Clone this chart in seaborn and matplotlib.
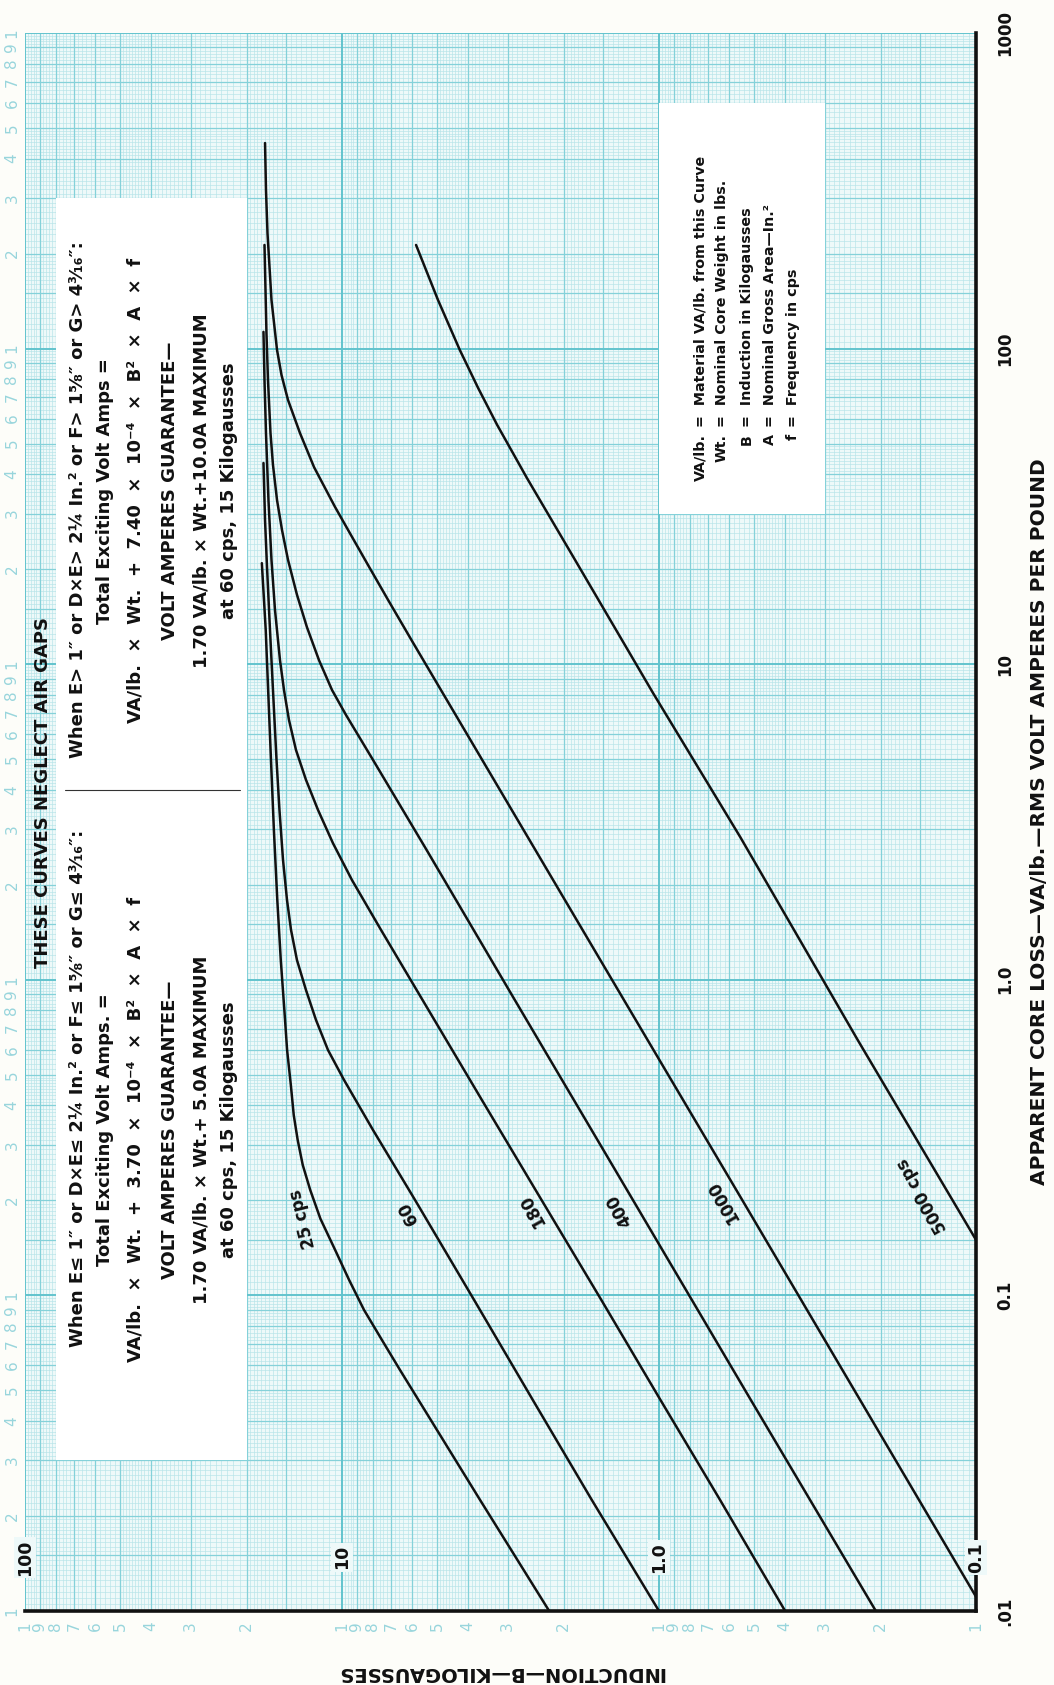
import numpy as np
import pandas as pd
import matplotlib
matplotlib.use("Agg")
import matplotlib.pyplot as plt
import seaborn as sns
from matplotlib.patches import Rectangle
from matplotlib.lines import Line2D
from matplotlib.ticker import NullLocator

# ---------------------------------------------------------------------------
# Apparent core loss (VA/lb) against induction (kilogausses), one curve per
# excitation frequency.  Values are (B, VA/lb) pairs along each curve.
# ---------------------------------------------------------------------------
freq_labels = ["25 cps", "60", "180", "400", "1000", "5000 cps"]

b_25 = [2.22, 3.67, 5.02, 6.56, 7.48, 8.52, 9.50, 10.5, 11.7, 12.6, 13.3, 13.8, 14.2, 14.5,
        14.9, 15.2, 15.6, 16.0, 16.4, 16.75, 17.1, 17.4, 17.7, 17.9]
va_25 = [0.010, 0.0225, 0.0375, 0.0580, 0.0722, 0.0899, 0.112, 0.139, 0.175, 0.216, 0.259,
         0.311, 0.373, 0.464, 0.599, 0.802, 1.155, 1.79, 2.98, 4.97, 8.28, 12.8, 17.2, 20.9]

b_60 = [1.0, 1.63, 2.50, 3.83, 5.89, 7.98, 9.86, 11.07, 12.08, 12.99, 13.87, 14.48, 14.91,
        15.35, 15.75, 16.09, 16.39, 16.69, 16.93, 17.24, 17.49, 17.69]
va_60 = [0.010, 0.0225, 0.0466, 0.0967, 0.201, 0.334, 0.482, 0.599, 0.746, 0.928, 1.155,
         1.438, 1.79, 2.40, 3.45, 4.97, 7.16, 10.3, 13.8, 20.3, 28.6, 43.4]

b_180 = [0.40, 0.642, 0.989, 1.52, 2.35, 3.62, 5.57, 7.53, 9.30, 10.68, 11.90, 12.99, 13.97,
         14.70, 15.24, 15.69, 16.27, 16.69, 17.06, 17.37, 17.56, 17.69]
va_180 = [0.010, 0.0225, 0.0466, 0.0967, 0.201, 0.416, 0.863, 1.438, 2.07, 2.71, 3.45, 4.30,
          5.35, 6.66, 8.28, 10.3, 14.85, 21.4, 33.1, 54.0, 79.5, 113]

b_400 = [0.207, 0.513, 1.21, 2.85, 5.41, 7.98, 9.71, 10.75, 11.82, 12.90, 13.87, 14.80, 15.46,
         16.03, 16.51, 16.81, 17.12, 17.31, 17.43, 17.56]
va_400 = [0.010, 0.0466, 0.201, 0.863, 2.58, 4.97, 6.90, 8.28, 10.3, 13.1, 16.6, 21.4, 26.6,
          33.1, 42.8, 54.0, 79.5, 112, 153, 213]

b_1000 = [0.1, 0.232, 0.547, 1.29, 3.04, 5.97, 7.16, 8.25, 9.44, 10.52, 12.25, 13.57, 14.80,
          15.52, 16.03, 16.69, 17.18, 17.37, 17.49]
va_1000 = [0.0111, 0.0466, 0.201, 0.863, 3.71, 11.7, 16.0, 20.5, 26.0, 31.5, 42.1, 54.0, 68.7,
           82.5, 99.0, 142.6, 232, 318, 448]

b_5000 = [0.1, 0.236, 0.555, 1.044, 1.84, 2.61, 3.24, 3.72, 4.25, 4.98, 5.84]
va_5000 = [0.150, 0.644, 2.84, 8.10, 21.4, 38.9, 57.3, 75.0, 99.0, 142.6, 213]

# curve label anchor points (B, VA/lb) and text angle
label_b = [13.3, 6.19, 2.50, 1.33, 0.628, 0.148]
label_va = [0.175, 0.182, 0.186, 0.186, 0.198, 0.208]
label_rot = [104, 117, 119, 119, 120, 120]

# axis numbering
b_ticks = [100, 10, 1, 0.1]
b_tick_text = ["100", "10", "1.0", "0.1"]
va_ticks = [1000, 100, 10, 1, 0.1, 0.01]
va_tick_text = ["1000", "100", "10", "1.0", "0.1", ".01"]

# text blocks
title_text = "THESE CURVES NEGLECT AIR GAPS"
small_core_lines = [
    "When E\u2264 1\u2033 or D\u00d7E\u2264 2\u00bc In.\u00b2 or F\u2264 1\u215d\u2033 or G\u2264 4\u00b3\u2044\u2081\u2086\u2033:",
    "Total Exciting Volt Amps. =",
    "VA/lb.  \u00d7  Wt.  +  3.70  \u00d7  10\u207b\u2074  \u00d7  B\u00b2  \u00d7  A  \u00d7  f",
    "VOLT AMPERES GUARANTEE\u2014",
    "1.70 VA/lb. \u00d7 Wt.+ 5.0A MAXIMUM",
    "at 60 cps, 15 Kilogausses",
]
large_core_lines = [
    "When E> 1\u2033 or D\u00d7E> 2\u00bc In.\u00b2 or F> 1\u215d\u2033 or G> 4\u00b3\u2044\u2081\u2086\u2033:",
    "Total Exciting Volt Amps =",
    "VA/lb.  \u00d7  Wt.  +  7.40  \u00d7  10\u207b\u2074  \u00d7  B\u00b2  \u00d7  A  \u00d7  f",
    "VOLT AMPERES GUARANTEE\u2014",
    "1.70 VA/lb. \u00d7 Wt.+10.0A MAXIMUM",
    "at 60 cps, 15 Kilogausses",
]
symbol_names = ["VA/lb.", "Wt.", "B", "A", "f"]
symbol_meanings = [
    "=  Material VA/lb. from this Curve",
    "=  Nominal Core Weight in lbs.",
    "=  Induction in Kilogausses",
    "=  Nominal Gross Area\u2014In.\u00b2",
    "=  Frequency in cps",
]
x_title = "APPARENT CORE LOSS\u2014VA/lb.\u2014RMS VOLT AMPERES PER POUND"
y_title = "INDUCTION\u2014B\u2014KILOGAUSSES"

# ---------------------------------------------------------------------------
sns.set_style("white")
plt.rcParams["font.family"] = ["DejaVu Sans"]

PAGE = "#fdfdf9"
PAPER = "#eef9f9"
MAJOR = "#62c3cd"
MID = "#84d1d9"
FINE = "#b6e4e9"
NUMERAL = "#98d5dc"
INK = "#111111"

W, H = 1054, 1685
fig = plt.figure(figsize=(W / 100, H / 100), dpi=100)
fig.patch.set_facecolor(PAGE)
ax = fig.add_axes([25 / W, 74 / H, 951 / W, 1578 / H])
ax.set_xscale("log")
ax.set_yscale("log")
ax.set_xlim(100, 0.1)
ax.set_ylim(0.01, 1000)
ax.set_facecolor(PAPER)
for axis in (ax.xaxis, ax.yaxis):
    axis.set_major_locator(NullLocator())
    axis.set_minor_locator(NullLocator())
for side in ("top", "left"):
    ax.spines[side].set_visible(False)
for side in ("bottom", "right"):
    ax.spines[side].set_color(INK)
    ax.spines[side].set_linewidth(2.6)
    ax.spines[side].set_zorder(8)


def paper_lines(lo, hi):
    """Log graph-paper rulings between decades 10**lo and 10**hi."""
    major, mid, fine = [], [], []
    for e in range(lo, hi + 1):
        major.append(10.0 ** e)
    for e in range(lo, hi):
        base = 10.0 ** e
        for d in range(2, 10):
            mid.append(d * base)
        mid.append(1.5 * base)
        steps = list(np.arange(1.05, 2.0, 0.05)) + list(np.arange(2.1, 5.0, 0.1)) + list(np.arange(5.2, 10.0, 0.2))
        for v in steps:
            v = round(v, 2)
            if abs(v - round(v)) < 1e-6 or abs(v - 1.5) < 1e-6:
                continue
            fine.append(v * base)
    return major, mid, fine


bx_major, bx_mid, bx_fine = paper_lines(-1, 2)
vy_major, vy_mid, vy_fine = paper_lines(-2, 3)
xt = ax.get_xaxis_transform()
yt = ax.get_yaxis_transform()
ax.vlines(bx_fine, 0, 1, transform=xt, color=FINE, lw=0.45, zorder=1)
ax.hlines(vy_fine, 0, 1, transform=yt, color=FINE, lw=0.45, zorder=1)
ax.vlines(bx_mid, 0, 1, transform=xt, color=MID, lw=0.9, zorder=1.2)
ax.hlines(vy_mid, 0, 1, transform=yt, color=MID, lw=0.9, zorder=1.2)
ax.vlines(bx_major, 0, 1, transform=xt, color=MAJOR, lw=1.4, zorder=1.4)
ax.hlines(vy_major, 0, 1, transform=yt, color=MAJOR, lw=1.4, zorder=1.4)

# white panels for the notes
ax.add_patch(Rectangle((80, 0.03), 20 - 80, 300 - 0.03, facecolor="white", edgecolor="none", zorder=2))
ax.add_patch(Rectangle((1.0, 30), 0.3 - 1.0, 600 - 30, facecolor="white", edgecolor="none", zorder=2))

# curves
frames = []
for lab, b, va in zip(freq_labels,
                      [b_25, b_60, b_180, b_400, b_1000, b_5000],
                      [va_25, va_60, va_180, va_400, va_1000, va_5000]):
    frames.append(pd.DataFrame({"B": b, "VA": va, "freq": lab}))
curves = pd.concat(frames, ignore_index=True)
sns.lineplot(data=curves, x="B", y="VA", hue="freq", units="freq",
             palette={lab: INK for lab in freq_labels}, estimator=None,
             sort=False, legend=False, linewidth=1.8, ax=ax, zorder=5)
ax.set_xlabel("")
ax.set_ylabel("")
ax.set_xlim(100, 0.1)
ax.set_ylim(0.01, 1000)

for lab, bx, vy, rot in zip(freq_labels, label_b, label_va, label_rot):
    ax.text(bx, vy, lab, rotation=rot, rotation_mode="anchor", ha="center", va="center",
            fontsize=12, fontweight="bold", color=INK, zorder=6)

# graph-paper numerals
for e in range(-2, 3):
    for d in range(1, 10):
        ax.text(-0.0137, d * 10.0 ** e, str(d), transform=yt, rotation=90, ha="center", va="center",
                fontsize=11, color=NUMERAL, clip_on=False)
ax.text(-0.0137, 1000, "1", transform=yt, rotation=90, ha="center", va="center",
        fontsize=11, color=NUMERAL, clip_on=False)
for e in range(-1, 2):
    for d in range(1, 10):
        ax.text(d * 10.0 ** e, -0.0095, str(d), transform=xt, rotation=90, ha="center", va="center",
                fontsize=11, color=NUMERAL, clip_on=False)
ax.text(100, -0.0095, "1", transform=xt, rotation=90, ha="center", va="center",
        fontsize=11, color=NUMERAL, clip_on=False)

# axis numbering
for v, t in zip(b_ticks, b_tick_text):
    ax.text(v, 0.034, t, transform=xt, rotation=90, ha="center", va="center", fontsize=12.5,
            fontweight="bold", color=INK, zorder=9, clip_on=False,
            bbox=dict(boxstyle="square,pad=0.12", facecolor=PAPER, edgecolor="none"))
for v, t in zip(va_ticks, va_tick_text):
    ax.text(1.0305, v, t, transform=yt, rotation=90, ha="center", va="center", fontsize=12,
            fontweight="bold", color=INK, clip_on=False)

ax.text(1.067, 0.5, x_title, transform=ax.transAxes, rotation=90, ha="center", va="center",
        fontsize=14.5, fontweight="bold", color=INK, clip_on=False)
ax.text(0.5, -0.039, y_title, transform=ax.transAxes, rotation=180, ha="center", va="center",
        fontsize=14, fontweight="bold", color=INK, clip_on=False)

# notes on neglecting air gaps
ax.text(0.0189, 0.519, title_text, transform=ax.transAxes, rotation=90, ha="center", va="center",
        fontsize=13, fontweight="bold", color=INK, zorder=6)
col_x = [0.0557, 0.0841, 0.1167, 0.1525, 0.1851, 0.2145]
for i, (lo_line, hi_line) in enumerate(zip(small_core_lines, large_core_lines)):
    y_lo = 0.331 if i == 0 else 0.305
    y_hi = 0.704 if i == 0 else 0.710
    ax.text(col_x[i], y_lo, lo_line, transform=ax.transAxes, rotation=90, rotation_mode="anchor",
            ha="center", va="center", fontsize=13, fontweight="bold", color=INK, zorder=6)
    ax.text(col_x[i], y_hi, hi_line, transform=ax.transAxes, rotation=90, rotation_mode="anchor",
            ha="center", va="center", fontsize=13, fontweight="bold", color=INK, zorder=6)
ax.add_line(Line2D([0.042, 0.226], [0.520, 0.520], transform=ax.transAxes, color="#333333",
                   lw=0.8, zorder=6))

# symbol definitions
def_x = [0.7098, 0.7329, 0.7592, 0.7834, 0.8076]
for xc, name, meaning in zip(def_x, symbol_names, symbol_meanings):
    ax.text(xc, 0.746, name, transform=ax.transAxes, rotation=90, rotation_mode="anchor",
            ha="right", va="center", fontsize=10.3, fontweight="bold", color=INK, zorder=6)
    ax.text(xc, 0.7505, meaning, transform=ax.transAxes, rotation=90, rotation_mode="anchor",
            ha="left", va="center", fontsize=10.3, fontweight="bold", color=INK, zorder=6)

fig.savefig("out.png", dpi=100, facecolor=PAGE)
